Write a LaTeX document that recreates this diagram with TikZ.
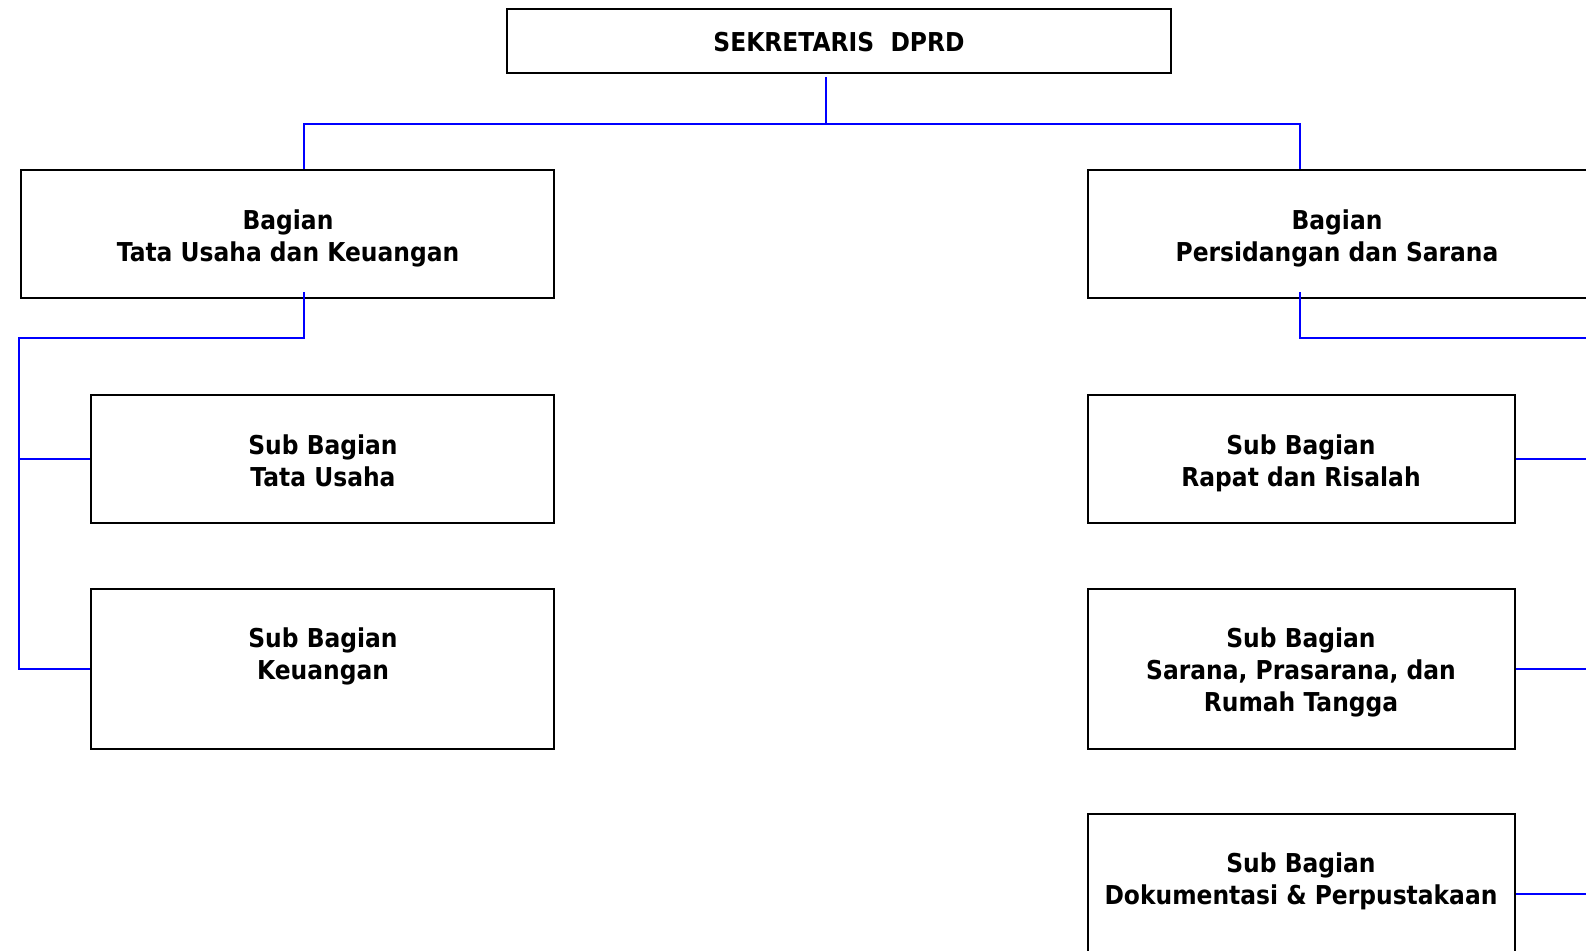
\documentclass[tikz,border=0pt]{standalone}
\usepackage{fontspec}
\setmainfont{DejaVu Sans}[FakeStretch=0.9]
\begin{document}
\begin{tikzpicture}[x=1pt,y=-1pt,
  box/.style={draw=black,line width=2pt,inner sep=0pt,fill=white},
  txt/.style={anchor=north,inner sep=0pt,align=center,font=\fontsize{26}{32}\bfseries\selectfont},
  conn/.style={draw={rgb,255:red,0;green,0;blue,255},line width=2pt}]
\useasboundingbox (0,0) rectangle (1586,950);
\clip (0,0) rectangle (1586,950);
% boxes
\node[box,minimum width=664pt,minimum height=64pt] (top) at (839,41) {};
\node[box,minimum width=533pt,minimum height=128pt] (bagL) at (287.5,234) {};
\node[box,minimum width=502pt,minimum height=128pt] (bagR) at (1339,234) {};
\node[box,minimum width=463pt,minimum height=128pt] (subL1) at (322.5,459) {};
\node[box,minimum width=463pt,minimum height=160pt] (subL2) at (322.5,669) {};
\node[box,minimum width=427pt,minimum height=128pt] (subR1) at (1301.5,459) {};
\node[box,minimum width=427pt,minimum height=160pt] (subR2) at (1301.5,669) {};
\node[box,minimum width=427pt,minimum height=160pt] (subR3) at (1301.5,894) {};
% texts
\node[txt] (ttop) at (839,32) {SEKRETARIS\ \ DPRD};
\node[txt] (tbagL) at (288,210) {Bagian\\Tata Usaha dan Keuangan};
\node[txt] (tbagR) at (1337,210) {Bagian\\Persidangan dan Sarana};
\node[txt] (tsubL1) at (323,435) {Sub Bagian\\Tata Usaha};
\node[txt] (tsubL2) at (323,628) {Sub Bagian\\Keuangan};
\node[txt] (tsubR1) at (1301,435) {Sub Bagian\\Rapat dan Risalah};
\node[txt] (tsubR2) at (1301,628) {Sub Bagian\\Sarana, Prasarana, dan\\Rumah Tangga};
\node[txt] (tsubR3) at (1301,853) {Sub Bagian\\Dokumentasi \& Perpustakaan};
% connector junctions
\coordinate (j0) at (826,124);
\coordinate (jL) at (304,338);
\coordinate (busL) at (19,338);
\coordinate (jR) at (1300,338);
\coordinate (busR) at (1600,338);
% top level
\draw[conn] ([yshift=-3pt]top.south -| j0) -- (j0);
\draw[conn] (bagL.north -| jL) |- (j0) -| (bagR.north -| jR);
% left branch
\draw[conn] ([yshift=7pt]bagL.south -| jL) -- (jL) -- (busL) |- (subL2.west);
\draw[conn] (subL1.west) -- (subL1.west -| busL);
% right branch
\draw[conn] ([yshift=7pt]bagR.south -| jR) -- (jR) -- (busR) |- (subR3.east);
\draw[conn] (subR1.east) -- (subR1.east -| busR);
\draw[conn] (subR2.east) -- (subR2.east -| busR);
\end{tikzpicture}
\end{document}
